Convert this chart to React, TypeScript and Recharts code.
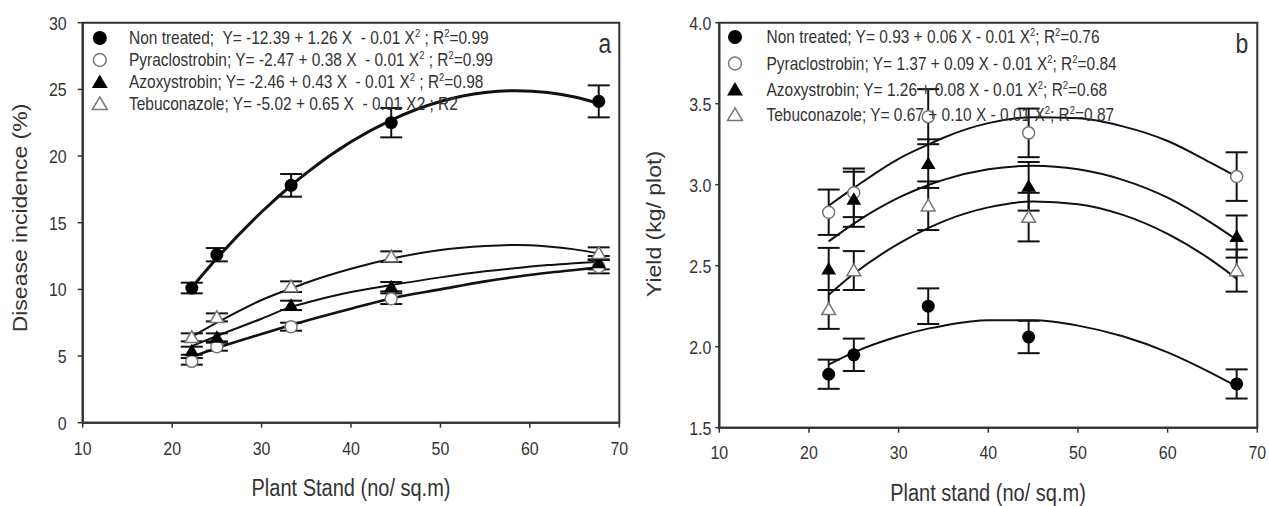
import React from "react";
import { ComposedChart, Line, Scatter, XAxis, YAxis, ErrorBar, ReferenceArea } from "recharts";

const FONT = "'Liberation Sans', Arial, Helvetica, sans-serif";

// Plant stand (x) of observed points
const standX = [22.2, 25.0, 33.3, 44.5, 67.7];

// Panel a – Disease incidence (%)
const diNonTreated = [10.1, 12.6, 17.8, 22.5, 24.1];
const diNonTreatedErr = [0.4, 0.5, 0.85, 1.1, 1.2];
const diPyra = [4.6, 5.7, 7.2, 9.3, 11.7];
const diPyraErr = [0.25, 0.3, 0.3, 0.4, 0.5];
const diAzoxy = [5.4, 6.4, 8.8, 10.2, 12.0];
const diAzoxyErr = [0.3, 0.3, 0.35, 0.35, 0.5];
const diTebu = [6.4, 7.9, 10.2, 12.45, 12.7];
const diTebuErr = [0.3, 0.3, 0.4, 0.4, 0.45];

// Panel a – fitted curves
const diFitX = [22.2, 25, 30, 33.3, 35, 40, 44.5, 50, 55, 58.5, 62, 65, 67.7];
const diFitNonTreated = [10.14, 12.33, 15.8, 17.79, 18.72, 21.07, 22.7, 24.09, 24.76, 24.9, 24.76, 24.43, 23.95];
const diFitPyra = [4.93, 5.6, 6.65, 7.32, 7.65, 8.55, 9.32, 10.0, 10.6, 10.95, 11.25, 11.45, 11.65];
const diFitAzoxy = [5.74, 6.5, 7.8, 8.69, 9.0, 9.8, 10.32, 10.9, 11.35, 11.6, 11.82, 11.95, 12.07];
const diFitTebu = [6.44, 7.5, 9.2, 10.07, 10.5, 11.55, 12.3, 12.95, 13.25, 13.33, 13.22, 13.0, 12.7];

// Panel b – Yield (kg/ plot)
const ydNonTreated = [1.83, 1.95, 2.25, 2.06, 1.77];
const ydNonTreatedErr = [0.09, 0.1, 0.11, 0.1, 0.09];
const ydPyra = [2.83, 2.95, 3.42, 3.32, 3.05];
const ydPyraErr = [0.14, 0.15, 0.17, 0.15, 0.15];
const ydAzoxy = [2.48, 2.91, 3.13, 2.99, 2.68];
const ydAzoxyErr = [0.13, 0.17, 0.15, 0.15, 0.13];
const ydTebu = [2.23, 2.47, 2.87, 2.8, 2.47];
const ydTebuErr = [0.12, 0.12, 0.15, 0.15, 0.13];

// Panel b – fitted curves
const ydFitX = [22.2, 25, 30, 33.4, 35, 40, 45, 50, 55, 60, 65, 67.7];
const ydFitNonTreated = [1.89, 1.965, 2.064, 2.113, 2.13, 2.163, 2.163, 2.13, 2.064, 1.965, 1.834, 1.755];
const ydFitPyra = [2.87, 2.98, 3.16, 3.25, 3.29, 3.38, 3.416, 3.41, 3.36, 3.27, 3.13, 3.05];
const ydFitAzoxy = [2.65, 2.76, 2.92, 3.0, 3.03, 3.095, 3.117, 3.095, 3.03, 2.92, 2.76, 2.66];
const ydFitTebu = [2.32, 2.45, 2.636, 2.735, 2.774, 2.86, 2.896, 2.88, 2.814, 2.697, 2.53, 2.42];

// Axis ticks
const xTicks = [10, 20, 30, 40, 50, 60, 70];
const diTicks = [0, 5, 10, 15, 20, 25, 30];
const ydTicks = [1.5, 2.0, 2.5, 3.0, 3.5, 4.0];

// Legend labels (^2 = superscript 2)
const seriesNames = ["Non treated", "Pyraclostrobin", "Azoxystrobin", "Tebuconazole"];
const diLegend = [
  "Non treated;  Y= -12.39 + 1.26 X  - 0.01 X^2 ; R^2=0.99",
  "Pyraclostrobin; Y= -2.47 + 0.38 X  - 0.01 X^2 ; R^2=0.99",
  "Azoxystrobin; Y= -2.46 + 0.43 X  - 0.01 X^2 ; R^2=0.98",
  "Tebuconazole; Y= -5.02 + 0.65 X  - 0.01 X2 ; R2",
];
const ydLegend = [
  "Non treated; Y= 0.93 + 0.06 X - 0.01 X^2; R^2=0.76",
  "Pyraclostrobin; Y= 1.37 + 0.09 X - 0.01 X^2; R^2=0.84",
  "Azoxystrobin; Y= 1.26 + 0.08 X - 0.01 X^2; R^2=0.68",
  "Tebuconazole; Y= 0.67 + 0.10 X - 0.01 X^2; R^2=0.87",
];

const pts = (ys: number[], es: number[]) => standX.map((x, i) => ({ x, y: ys[i], e: es[i] }));
const fit = (xs: number[], ys: number[]) => xs.map((x, i) => ({ x, y: ys[i] }));

const triPath = (cx: number, cy: number, h: number) =>
  `M${cx},${cy - h}L${cx + h * 1.05},${cy + h * 0.78}L${cx - h * 1.05},${cy + h * 0.78}Z`;

type Kind = "fc" | "oc" | "ft" | "ot";
const kinds: Kind[] = ["fc", "oc", "ft", "ot"];

function Marker({ kind, cx, cy, s = 1 }: { kind: Kind; cx: number; cy: number; s?: number }) {
  if (kind === "fc") return <circle cx={cx} cy={cy} r={6.5 * s} fill="#000" />;
  if (kind === "oc") return <circle cx={cx} cy={cy} r={6 * s} fill="#fff" stroke="#777" strokeWidth={1.5} />;
  if (kind === "ft") return <path d={triPath(cx, cy, 7 * s)} fill="#000" />;
  return <path d={triPath(cx, cy, 6.6 * s)} fill="#fff" stroke="#777" strokeWidth={1.5} />;
}

function HText({ x, y, size, sx, anchor, children, fill = "#333" }: any) {
  return (
    <text
      transform={`translate(${x},${y}) scale(${sx},1)`}
      textAnchor={anchor}
      fontSize={size}
      fontFamily={FONT}
      fill={fill}
      style={{ whiteSpace: "pre" }}
    >
      {children}
    </text>
  );
}

function RichLabel({ s }: { s: string }) {
  const parts = s.split(/\^(\d)/);
  const out: any[] = [];
  parts.forEach((p, i) => {
    if (i % 2 === 1) {
      out.push(
        <tspan key={i} fontSize={11} dy={-7}>
          {p}
        </tspan>
      );
    } else if (p.length) {
      out.push(
        <tspan key={i} dy={i > 0 ? 7 : 0}>
          {p}
        </tspan>
      );
    }
  });
  return <>{out}</>;
}

type PanelProps = {
  width: number;
  height: number;
  margin: any;
  yWidth: number;
  xHeight: number;
  yDomain: [number, number];
  yTicks: number[];
  yFmt: (v: number) => string;
  yTickSize: number;
  yTickMargin: number;
  xLabelDy: number;
  fits: { data: { x: number; y: number }[]; w: number }[];
  points: { data: { x: number; y: number; e: number }[]; kind: Kind }[];
};

function Panel(p: PanelProps) {
  return (
    <ComposedChart width={p.width} height={p.height} margin={p.margin}>
      <XAxis
        type="number"
        dataKey="x"
        domain={[10, 70]}
        ticks={xTicks}
        allowDataOverflow
        height={p.xHeight}
        axisLine={{ stroke: "#333", strokeWidth: 2 }}
        tickLine={{ stroke: "#333", strokeWidth: 1.5 }}
        tickSize={5}
        tickMargin={2}
        interval={0}
        tick={(t: any) => (
          <HText x={t.x} y={t.y + p.xLabelDy} size={19} sx={0.84} anchor="middle">
            {t.payload.value}
          </HText>
        )}
      />
      <YAxis
        type="number"
        dataKey="y"
        domain={p.yDomain}
        ticks={p.yTicks}
        allowDataOverflow
        width={p.yWidth}
        axisLine={{ stroke: "#333", strokeWidth: 2 }}
        tickLine={{ stroke: "#333", strokeWidth: 1.5 }}
        tickSize={p.yTickSize}
        tickMargin={p.yTickMargin}
        interval={0}
        tick={(t: any) => (
          <HText x={t.x} y={t.y + 7} size={19} sx={0.84} anchor="end">
            {p.yFmt(t.payload.value)}
          </HText>
        )}
      />
      <ReferenceArea
        x1={10}
        x2={70}
        y1={p.yDomain[0]}
        y2={p.yDomain[1]}
        fill="none"
        fillOpacity={0}
        stroke="#333"
        strokeWidth={2}
        ifOverflow="visible"
      />
      {p.fits.map((f, i) => (
        <Line
          key={"f" + i}
          data={f.data}
          dataKey="y"
          type="monotone"
          stroke="#111"
          strokeWidth={f.w}
          dot={false}
          activeDot={false}
          isAnimationActive={false}
          name={seriesNames[i] + " fit"}
        />
      ))}
      {p.points.map((s, i) => (
        <Scatter
          key={"s" + i}
          data={s.data}
          dataKey="y"
          name={seriesNames[i]}
          isAnimationActive={false}
          shape={(sp: any) => <Marker kind={s.kind} cx={sp.cx} cy={sp.cy} />}
        >
          <ErrorBar dataKey="e" direction="y" width={11} strokeWidth={2} stroke="#111" isAnimationActive={false} />
        </Scatter>
      ))}
    </ComposedChart>
  );
}

function Legend({ x0, tx, rows, labels }: { x0: number; tx: number; rows: number[]; labels: string[] }) {
  return (
    <g>
      {labels.map((l, i) => (
        <g key={i}>
          <Marker kind={kinds[i]} cx={x0} cy={rows[i]} s={1.08} />
          <HText x={tx} y={rows[i] + 6.4} size={18} sx={0.86} anchor="start">
            <RichLabel s={l} />
          </HText>
        </g>
      ))}
    </g>
  );
}

export default function App() {
  const diFits = [diFitNonTreated, diFitPyra, diFitAzoxy, diFitTebu].map((ys, i) => ({
    data: fit(diFitX, ys),
    w: i === 0 ? 3 : i === 1 ? 2.6 : 2,
  }));
  const diPts = [
    pts(diNonTreated, diNonTreatedErr),
    pts(diPyra, diPyraErr),
    pts(diAzoxy, diAzoxyErr),
    pts(diTebu, diTebuErr),
  ].map((d, i) => ({ data: d, kind: kinds[i] }));

  const ydFits = [ydFitNonTreated, ydFitPyra, ydFitAzoxy, ydFitTebu].map((ys) => ({
    data: fit(ydFitX, ys),
    w: 2,
  }));
  const ydPts = [
    pts(ydNonTreated, ydNonTreatedErr),
    pts(ydPyra, ydPyraErr),
    pts(ydAzoxy, ydAzoxyErr),
    pts(ydTebu, ydTebuErr),
  ].map((d, i) => ({ data: d, kind: kinds[i] }));

  return (
    <div style={{ position: "absolute", left: 0, top: 0, width: 1269, height: 506, background: "#fff", overflow: "hidden" }}>
      <div style={{ position: "absolute", left: 0, top: 0 }}>
        <Panel
          width={640}
          height={506}
          margin={{ top: 22.7, right: 20.7, bottom: 0, left: 0 }}
          yWidth={82.7}
          xHeight={83.3}
          yDomain={[0, 30]}
          yTicks={diTicks}
          yFmt={(v) => String(v)}
          yTickSize={5}
          yTickMargin={11}
          xLabelDy={25.3}
          fits={diFits}
          points={diPts}
        />
      </div>
      <div style={{ position: "absolute", left: 640, top: 0 }}>
        <Panel
          width={629}
          height={506}
          margin={{ top: 22.7, right: 11.7, bottom: 0, left: 0 }}
          yWidth={79.3}
          xHeight={78.3}
          yDomain={[1.5, 4.0]}
          yTicks={ydTicks}
          yFmt={(v) => v.toFixed(1)}
          yTickSize={4}
          yTickMargin={4}
          xLabelDy={24.3}
          fits={ydFits}
          points={ydPts}
        />
      </div>
      <svg width={1269} height={506} style={{ position: "absolute", left: 0, top: 0, pointerEvents: "none" }}>
        <Legend x0={99.8} tx={129} rows={[38, 60, 82, 104]} labels={diLegend} />
        <Legend x0={735} tx={766.5} rows={[37, 63.5, 89.5, 115]} labels={ydLegend} />
        <HText x={605} y={52.7} size={27} sx={0.85} anchor="middle">a</HText>
        <HText x={1242} y={52.7} size={27} sx={0.85} anchor="middle">b</HText>
        <HText x={351} y={496} size={23} sx={0.87} anchor="middle">Plant Stand (no/ sq.m)</HText>
        <HText x={988} y={501} size={23} sx={0.87} anchor="middle">Plant stand (no/ sq.m)</HText>
        <text
          transform="translate(27,218) rotate(-90) scale(1,0.87)"
          textAnchor="middle"
          fontSize={23}
          fontFamily={FONT}
          fill="#333"
        >
          Disease incidence (%)
        </text>
        <text
          transform="translate(661,224) rotate(-90) scale(1,0.87)"
          textAnchor="middle"
          fontSize={23}
          fontFamily={FONT}
          fill="#333"
        >
          Yield (kg/ plot)
        </text>
      </svg>
    </div>
  );
}
